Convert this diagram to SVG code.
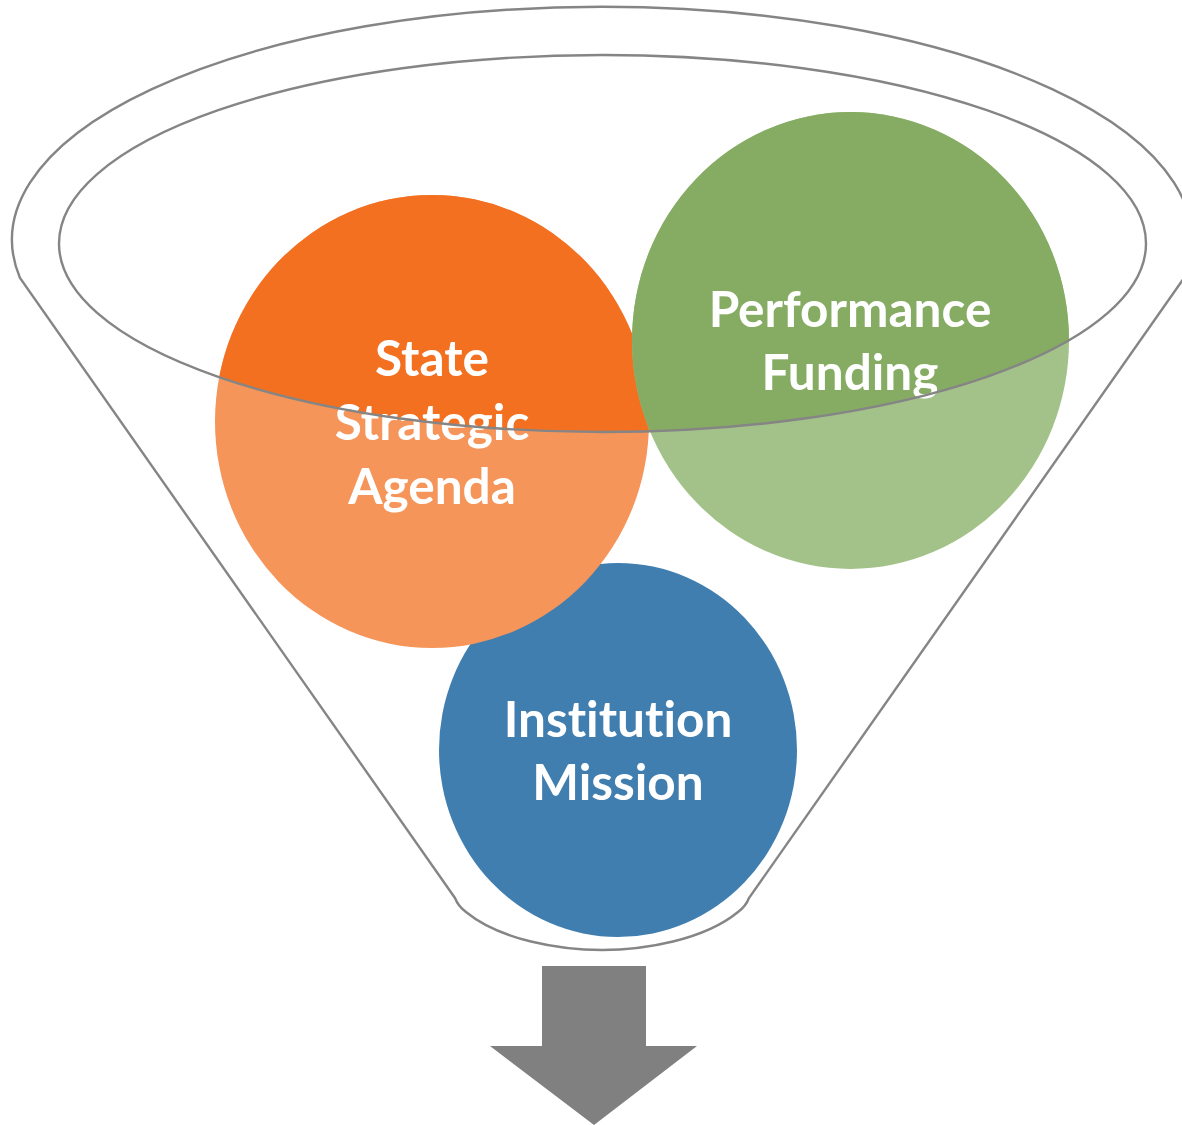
<svg xmlns="http://www.w3.org/2000/svg" width="1182" height="1125" viewBox="0 0 1182 1125">
  <style>
    .lbl { font-family: Lato, "Open Sans", "Liberation Sans", sans-serif; font-weight: bold; font-size: 49.5px; fill: #ffffff; text-anchor: middle; font-variant-ligatures: none; }
    .funnel { fill: none; stroke: #858585; stroke-width: 2.4; }
  </style>
  <defs>
    <clipPath id="mouth">
      <ellipse cx="602.5" cy="243.5" rx="543.5" ry="188.5"/>
    </clipPath>
  </defs>
  <rect width="1182" height="1125" fill="#ffffff"/>
  <g id="institution-mission">
    <ellipse cx="618" cy="750" rx="179" ry="187" fill="#407EB0"/>
    <text class="lbl" x="618" y="737">Institution</text>
    <text class="lbl" x="618" y="800">Mission</text>
  </g>
  <g id="state-strategic-agenda">
    <ellipse cx="432" cy="421.5" rx="217" ry="226.5" fill="#F6955A"/>
    <ellipse cx="432" cy="421.5" rx="217" ry="226.5" fill="#F37021" clip-path="url(#mouth)"/>
    <text class="lbl" x="432" y="376">State</text>
    <text class="lbl" x="432" y="440">Strategic</text>
    <text class="lbl" x="432" y="504">Agenda</text>
  </g>
  <g id="performance-funding">
    <ellipse cx="850.5" cy="340.5" rx="218.5" ry="228.5" fill="#A3C28A"/>
    <ellipse cx="850.5" cy="340.5" rx="218.5" ry="228.5" fill="#86AC63" clip-path="url(#mouth)"/>
    <text class="lbl" x="850" y="327">Performance</text>
    <text class="lbl" x="850" y="390">Funding</text>
  </g>
  <g id="funnel">
    <path class="funnel" d="M 455 898 L 20 278 A 590 233 0 1 1 1184 278 L 749 898 Q 746 906 738 912 C 704 940 644 950 602 950 C 560 950 500 940 466 912 Q 458 906 455 898 Z"/>
    <ellipse class="funnel" cx="602.5" cy="243.5" rx="543.5" ry="188.5"/>
  </g>
  <g id="connectors">
    <path d="M 542 966 L 646 966 L 646 1046 L 697 1046 L 594 1125 L 490 1046 L 542 1046 Z" fill="#808080"/>
  </g>
</svg>
